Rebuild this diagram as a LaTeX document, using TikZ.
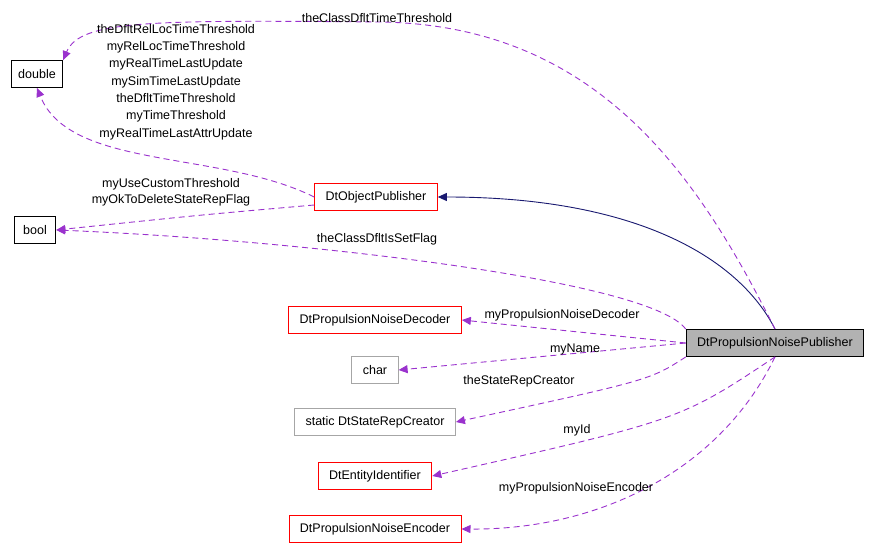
\documentclass[tikz,border=0pt]{standalone}
\usepackage{fontspec}
\setmainfont{Liberation Sans}
\usepackage{xcolor}
\usetikzlibrary{arrows.meta, positioning}
\definecolor{usecol}{HTML}{9A32CD}
\definecolor{inhcol}{HTML}{191970}
\begin{document}
\begin{tikzpicture}[
        x=1pt, y=-1pt,
        font=\fontsize{12.5}{14}\selectfont,
        line width=0.9pt,
        cls/.style={rectangle, draw=black, minimum height=27pt, inner xsep=11pt},
        redcls/.style={cls, draw=red},
        graycls/.style={cls, draw=gray!70},
        uses/.style={-{Triangle[length=9pt, width=8pt]}, usecol, dash pattern=on 6pt off 4pt},
        lbl/.style={inner sep=1pt, align=center}
    ]
        \useasboundingbox (0,0) rectangle (875,551);
        \node[cls, inner xsep=7pt] (double) at (37,74) {double};
        \node[cls, inner xsep=9pt] (bool) at (35,230) {bool};
        \node[redcls] (objpub) at (376,197) {DtObjectPublisher};
        \node[redcls] (decoder) at (375,320) {DtPropulsionNoiseDecoder};
        \node[graycls] (char) at (375,370) {char};
        \node[graycls] (creator) at (375,422) {static DtStateRepCreator};
        \node[redcls] (entity) at (375,476) {DtEntityIdentifier};
        \node[redcls] (encoder) at (375,529) {DtPropulsionNoiseEncoder};
        \node[cls, fill=gray!60] (noisepub) at (775,343) {DtPropulsionNoisePublisher};

        % inheritance
        \draw[-{Triangle[length=9pt, width=8pt]}, inhcol] (noisepub.north) .. controls (740,260) and (640,197) .. (objpub.east);

        % members of the publisher
        \draw[uses] (noisepub.north) .. controls (700,180) and (600,25) .. (380,22) .. controls (150,20) and (80,20) .. (double.north east);
        \draw[uses] (noisepub.north west) .. controls (650,280) and (300,240) .. (bool.east);
        \draw[uses] (noisepub.west) -- (decoder.east);
        \draw[uses] (noisepub.west) -- (char.east);
        \draw[uses] (noisepub.south west) .. controls (650,380) .. (creator.east);
        \draw[uses] (noisepub.south) .. controls (680,420) .. (entity.east);
        \draw[uses] (noisepub.south) .. controls (720,470) and (600,530) .. (encoder.east);

        % members of the base class
        \draw[uses] (objpub.west) .. controls (220,150) and (70,170) .. (double.south);
        \draw[uses] (objpub.west |- 0,205) .. controls (200,215) .. (bool.east);

        % labels
        \node[lbl] at (377,18) {theClassDfltTimeThreshold};
        \node[lbl, font=\fontsize{12.5}{17.3}\selectfont] at (176,82) {theDfltRelLocTimeThreshold\\myRelLocTimeThreshold\\myRealTimeLastUpdate\\mySimTimeLastUpdate\\theDfltTimeThreshold\\myTimeThreshold\\myRealTimeLastAttrUpdate};
        \node[lbl, font=\fontsize{12.5}{16}\selectfont] at (171,192) {myUseCustomThreshold\\myOkToDeleteStateRepFlag};
        \node[lbl] at (377,239) {theClassDfltIsSetFlag};
        \node[lbl] at (562,315) {myPropulsionNoiseDecoder};
        \node[lbl] at (575,349) {myName};
        \node[lbl] at (519,381) {theStateRepCreator};
        \node[lbl] at (577,430) {myId};
        \node[lbl] at (576,488) {myPropulsionNoiseEncoder};
\end{tikzpicture}
\end{document}
